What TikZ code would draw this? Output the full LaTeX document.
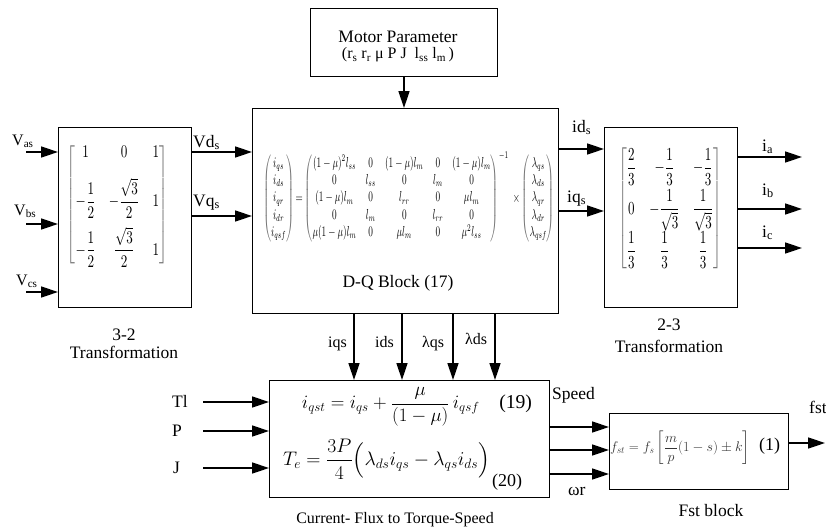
\documentclass[tikz,border=0pt]{standalone}
\usepackage{fontspec}
\setmainfont{Liberation Serif}
\usepackage{amsmath}
\usepackage{graphicx}
\usetikzlibrary{arrows.meta}
\colorlet{brk}{black!55}
\begin{document}
\begin{tikzpicture}[x=1pt,y=-1pt,
  blk/.style={draw, line width=1pt, inner sep=0pt, anchor=north west},
  arr/.style={line width=1.5pt, -{Triangle[length=17pt,width=11pt]}},
  lbl/.style={inner sep=0pt, font=\fontsize{16}{18}\selectfont},
  big/.style={inner sep=0pt, font=\fontsize{17.5}{19}\selectfont},
  eq/.style={inner sep=0pt}
]
\useasboundingbox (0,0) rectangle (826,527);

% blocks
\node[blk, minimum width=187pt, minimum height=68pt] (mp) at (310,8) {};
\node[blk, minimum width=133pt, minimum height=180pt] (t32) at (58,127) {};
\node[blk, minimum width=306pt, minimum height=205pt] (dq) at (252,108) {};
\node[blk, minimum width=133pt, minimum height=180pt] (t23) at (604,127) {};
\node[blk, minimum width=280pt, minimum height=117pt] (cf) at (269,380) {};
\node[blk, minimum width=179pt, minimum height=76pt] (fst) at (609,413) {};

% motor parameter text
\node[big, anchor=base] (mpt1) at (398,42) {Motor Parameter};
\node[lbl, anchor=base] (mpt2) at (398,59) {(r\textsubscript{s} r\textsubscript{r} μ P J\ \ l\textsubscript{ss} l\textsubscript{m}\,)};

% 3-2 matrix
\node[eq] (m32) at (117.5,205) {\resizebox*{101pt}{125pt}{$\color{brk}\left[{\color{black}\begin{matrix}1&0&1\\[8pt] -\dfrac12 & -\dfrac{\sqrt3}{2} & 1\\[8pt] -\dfrac12&\dfrac{\sqrt3}{2}&1\end{matrix}}\right]$}};

% 2-3 matrix
\node[eq] (m23) at (670,208.5) {\resizebox*{104pt}{121pt}{$\color{brk}\left[{\color{black}\begin{matrix}\dfrac23&-\dfrac13&-\dfrac13\\[6pt] 0 & -\dfrac{1}{\sqrt3} & \dfrac{1}{\sqrt3}\\[6pt] \dfrac13&\dfrac13&\dfrac13\end{matrix}}\right]$}};

% D-Q matrix equation
\node[eq] (mdq) at (409,197) {\resizebox*{292pt}{90pt}{$\color{brk}\left({\color{black}\begin{matrix} i_{qs}\\ i_{ds}\\ i_{qr}\\ i_{dr}\\ i_{qsf}\end{matrix}}\right) {\color{black}=} \left({\color{black}\begin{matrix} (1-\mu)^2 l_{ss} & 0 & (1-\mu)l_m & 0 & (1-\mu)l_m\\ 0 & l_{ss} & 0 & l_m & 0\\ (1-\mu)l_m & 0 & l_{rr} & 0 & \mu l_m\\ 0 & l_m & 0 & l_{rr} & 0\\ \mu(1-\mu)l_m & 0 & \mu l_m & 0 & \mu^2 l_{ss}\end{matrix}}\right)^{\color{black}-1}\;{\color{black}\times}\left({\color{black}\begin{matrix}\lambda_{qs}\\ \lambda_{ds}\\ \lambda_{qr}\\ \lambda_{dr}\\ \lambda_{qsf}\end{matrix}}\right)$}};

% captions
\node[big, anchor=base] (c32a) at (124,340) {3-2};
\node[big, anchor=base] (c32b) at (124,358) {Transformation};
\node[big, anchor=base] (c23a) at (669,330) {2-3};
\node[big, anchor=base] (c23b) at (669,352) {Transformation};
\node[big, anchor=base] (cdq) at (398,287) {D-Q Block (17)};
\node[lbl, anchor=base] (ccf) at (395,523) {Current- Flux to Torque-Speed};
\node[big, anchor=base] (cfst) at (711,516) {Fst block};

% current-flux equations
\node[eq] (e19) at (417,407) {\resizebox{230pt}{!}{\fontsize{18}{20}\selectfont$i_{qst} = i_{qs} + \dfrac{\mu}{(1-\mu)}\, i_{qsf}$\quad(19)}};
\node[eq] (e20) at (386.5,459) {\resizebox{207pt}{!}{\fontsize{18}{20}\selectfont$T_e = \dfrac{3P}{4}\Bigl(\lambda_{ds} i_{qs} - \lambda_{qs} i_{ds}\Bigr)$}};
\node[lbl, anchor=base west, font=\fontsize{18}{20}\selectfont] (n20) at (492,486) {(20)};

% fst equation
\node[eq] (efst) at (680,448) {\resizebox{140pt}{!}{\fontsize{18}{20}\selectfont\color{black!80}$f_{st} = f_s\left[\dfrac{m}{p}(1-s)\pm k\right]$}};
\node[lbl, anchor=base west, font=\fontsize{18}{20}\selectfont] (n1) at (759,450) {(1)};

% input labels
\node[lbl, anchor=base west] (lva) at (12,145) {V\textsubscript{as}};
\node[lbl, anchor=base west] (lvb) at (14,215) {V\textsubscript{bs}};
\node[lbl, anchor=base west] (lvc) at (16,285) {V\textsubscript{cs}};
\node[big, anchor=base west] (lvd) at (193,147) {Vd\textsubscript{s}};
\node[big, anchor=base west] (lvq) at (193,206) {Vq\textsubscript{s}};
\node[big, anchor=base west] (lid) at (572,132) {id\textsubscript{s}};
\node[big, anchor=base west] (liq) at (567,202) {iq\textsubscript{s}};
\node[big, anchor=base west] (lia) at (762,151) {i\textsubscript{a}};
\node[big, anchor=base west] (lib) at (762,195) {i\textsubscript{b}};
\node[big, anchor=base west] (lic) at (762,237) {i\textsubscript{c}};
\node[lbl, anchor=base west] (liqs) at (328,347) {iqs};
\node[lbl, anchor=base west] (lids) at (375,347) {ids};
\node[lbl, anchor=base west] (llqs) at (422,347) {λqs};
\node[lbl, anchor=base west] (llds) at (465,344) {λds};
\node[big, anchor=base west] (ltl) at (172,407) {Tl};
\node[big, anchor=base west] (lp) at (172,436) {P};
\node[big, anchor=base west] (lj) at (173,473) {J};
\node[big, anchor=base west] (lsp) at (552,399) {Speed};
\node[big, anchor=base west] (lwr) at (568,495) {ωr};
\node[big, anchor=base west] (lfst) at (809,413) {fst};

% coordinates
\coordinate (sa) at (26,152);
\coordinate (sb) at (26,224);
\coordinate (sc) at (26,292);
\coordinate (yd) at (0,152);
\coordinate (yq) at (0,216);
\coordinate (yid) at (0,149);
\coordinate (yiq) at (0,211);
\coordinate (ea) at (802,157);
\coordinate (eb) at (802,209);
\coordinate (ec) at (802,248);
\coordinate (x1) at (354,0);
\coordinate (x2) at (402,0);
\coordinate (x3) at (453,0);
\coordinate (x4) at (495,0);
\coordinate (st) at (203,402);
\coordinate (sp) at (203,431);
\coordinate (sj) at (203,468);
\coordinate (y1) at (0,427);
\coordinate (y2) at (0,450);
\coordinate (y3) at (0,474);
\coordinate (eo) at (825,443);

% connectors
\draw[arr] (mp.south) -- (mp.south |- dq.north);
\draw[arr] (sa) -- (sa -| t32.west);
\draw[arr] (sb) -- (sb -| t32.west);
\draw[arr] (sc) -- (sc -| t32.west);
\draw[arr] (t32.east |- yd) -- (dq.west |- yd);
\draw[arr] (t32.east |- yq) -- (dq.west |- yq);
\draw[arr] (dq.east |- yid) -- (t23.west |- yid);
\draw[arr] (dq.east |- yiq) -- (t23.west |- yiq);
\draw[arr] (t23.east |- ea) -- (ea);
\draw[arr] (t23.east |- eb) -- (eb);
\draw[arr] (t23.east |- ec) -- (ec);
\draw[arr] (dq.south -| x1) -- (cf.north -| x1);
\draw[arr] (dq.south -| x2) -- (cf.north -| x2);
\draw[arr] (dq.south -| x3) -- (cf.north -| x3);
\draw[arr] (dq.south -| x4) -- (cf.north -| x4);
\draw[arr] (st) -- (st -| cf.west);
\draw[arr] (sp) -- (sp -| cf.west);
\draw[arr] (sj) -- (sj -| cf.west);
\draw[arr] (cf.east |- y1) -- (fst.west |- y1);
\draw[arr] (cf.east |- y2) -- (fst.west |- y2);
\draw[arr] (cf.east |- y3) -- (fst.west |- y3);
\draw[arr] (fst.east |- eo) -- (eo);
\end{tikzpicture}
\end{document}
